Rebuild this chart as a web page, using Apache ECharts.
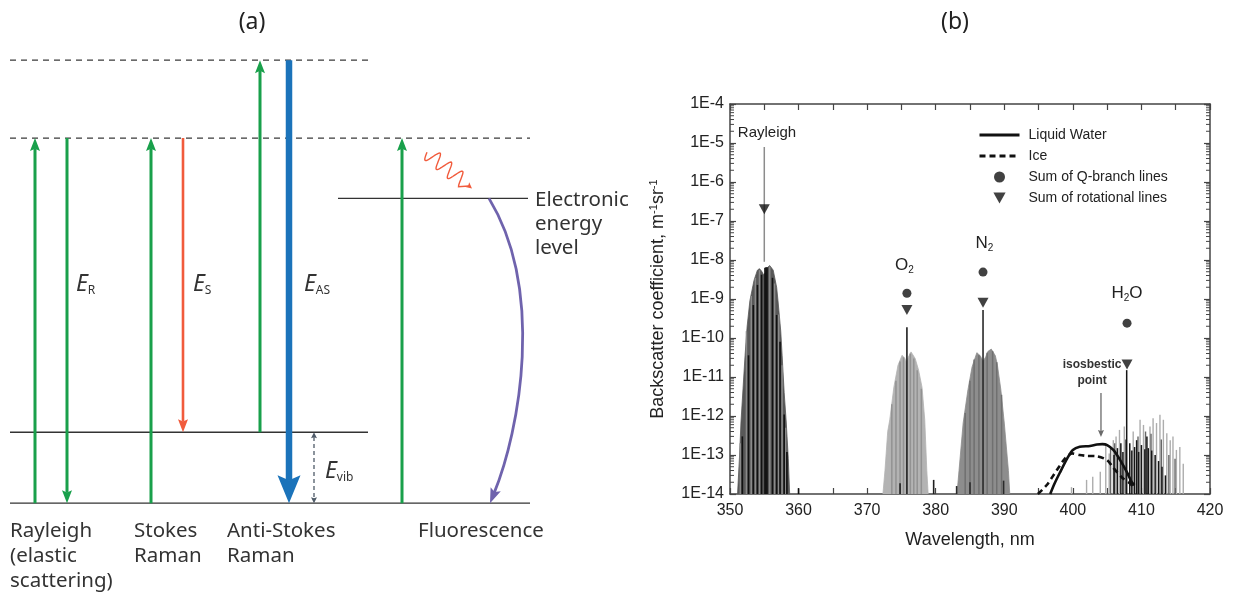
<!DOCTYPE html>
<html>
<head>
<meta charset="utf-8">
<script src="https://cdn.jsdelivr.net/npm/echarts@6.0.0/dist/echarts.min.js"></script>
<style>
html,body{margin:0;padding:0;background:#ffffff;}
#chart{width:1233px;height:594px;}
</style>
</head>
<body>
<div id="chart"></div>
<script>
/* ================= Panel (a): energy-level diagram ================= */
const levelNames  = ['ground', 'vibrational', 'electronic', 'virtual', 'virtualHigh'];
const levelEnergy = [0, 1, 4.3, 5.15, 6.25];
const processLabels = ['Rayleigh\n(elastic\nscattering)', 'Stokes\nRaman', 'Anti-Stokes\nRaman', 'Fluorescence'];
const transitionFrom = ['ground', 'virtual', 'ground', 'virtual', 'vibrational', 'virtualHigh', 'vibrational', 'ground'];
const transitionTo   = ['virtual', 'ground', 'virtual', 'vibrational', 'virtualHigh', 'ground', 'ground', 'virtual'];
const transitionKind = ['green', 'green', 'green', 'red', 'green', 'blue', 'vib', 'green'];
const energyLabelSub = ['R', 'S', 'AS', 'vib'];
const levelLabel = 'Electronic\nenergy\nlevel';

/* ================= Panel (b): backscatter spectrum ================= */
const xTickValues = [350, 360, 370, 380, 390, 400, 410, 420];
const yTickLabels = ['1E-14','1E-13','1E-12','1E-11','1E-10','1E-9','1E-8','1E-7','1E-6','1E-5','1E-4'];

const rayleighEnvelope = [[351.1,1e-14],[351.4,1e-13],[351.6,7e-13],[351.9,5e-12],[352.2,3.6e-11],[352.5,2e-10],[352.9,9e-10],[353.5,3e-9],[354.0,5.5e-9],[354.3,6e-9],[354.6,5.2e-9],[354.9,4.2e-9],[355.2,4.8e-9],[355.5,6.5e-9],[355.8,7.2e-9],[356.3,5.5e-9],[356.8,2e-9],[357.0,9e-10],[357.4,1.5e-10],[357.6,3.6e-11],[357.9,4e-12],[358.2,7e-13],[358.5,8e-14],[358.7,1e-14]];
const rayleighDark  = [[351.8,3e-13],[352.7,3.6e-11],[353.4,7e-10],[354.0,2.3e-9],[354.6,4.2e-9],[355.1,6.3e-9],[355.25,6.5e-9],[355.4,6.5e-9],[356.2,3.5e-9],[356.8,3.9e-10],[357.3,8e-11],[357.9,1.1e-12],[358.3,1.2e-13],[360.0,1.4e-14]];
const rayleighLight = [[351.5,2e-13],[352.4,1.5e-10],[353.1,1.2e-9],[353.7,3.5e-9],[354.3,5.5e-9],[355.8,6.8e-9],[356.5,2.5e-9],[357.1,4e-10],[357.6,2e-11],[358.1,5e-13]];

const o2Envelope = [[372.3,1e-14],[372.6,4e-14],[373.0,4e-13],[373.3,8e-13],[373.9,5.5e-12],[374.5,2e-11],[375.1,3.6e-11],[375.5,3e-11],[375.75,2.3e-11],[376.0,3.2e-11],[376.4,4.4e-11],[377.0,3e-11],[377.5,1.5e-11],[378.0,5.5e-12],[378.4,8e-13],[378.7,4e-14],[378.9,1e-14]];
const o2Mid  = [[373.6,2e-12],[374.2,8e-12],[374.8,2.5e-11],[375.3,3.2e-11],[376.3,4e-11],[376.8,3e-11],[377.3,1.5e-11],[377.9,5e-12]];
const o2Dark = [[375.8,1.9e-10],[374.8,1.9e-14],[379.7,2.3e-14]];

const n2Envelope = [[383.1,1e-14],[383.4,4e-14],[384.0,6.6e-13],[384.7,4.7e-12],[385.3,1.8e-11],[386.0,4.2e-11],[386.5,3.5e-11],[386.9,2.5e-11],[387.3,3.3e-11],[387.6,4.5e-11],[388.1,5.2e-11],[388.7,3.5e-11],[389.0,2e-11],[389.5,4.7e-12],[390.0,6.6e-13],[390.6,4e-14],[390.8,1e-14]];
const n2Mid  = [[384.3,1.2e-12],[385.0,8e-12],[385.6,2.8e-11],[386.3,3.6e-11],[387.5,4.2e-11],[388.3,4.6e-11],[388.9,2.4e-11],[389.6,3.5e-12]];
const n2Dark = [[386.9,5.2e-10],[383.05,1.6e-14],[385.0,2e-14],[389.9,2.2e-14]];

const h2oLight = [[399.8,1.5e-14],[402.0,2.3e-14],[402.9,2.75e-14],[404.0,3.7e-14],[404.8,2e-13],[405.3,1.1e-13],[405.9,2.4e-13],[406.3,3e-13],[406.8,4.4e-13],[407.5,5.4e-13],[408.8,4e-13],[409.8,8e-13],[410.3,5.9e-13],[411.25,5.4e-13],[411.7,8.7e-13],[412.2,6.6e-13],[412.7,1.07e-12],[413.2,8e-13],[413.7,3.6e-13],[414.2,2.4e-13],[414.6,3e-13],[415.1,1.35e-13],[415.6,1.6e-13],[416.1,6e-14]];
const h2oMid  = [[405.5,1.6e-13],[406.1,2e-13],[407.7,2.5e-13],[409.5,3e-13],[410.6,4e-13],[411.4,3.5e-13],[412.9,2.5e-13],[414.0,1e-13],[414.9,8e-14]];
const h2oDark = [[406.0,1e-13],[406.5,1.5e-13],[407.0,2e-13],[407.3,1.2e-13],[407.85,1.5e-11],[408.3,2e-13],[408.6,1.3e-13],[409.0,1.6e-13],[409.3,2.4e-13],[409.6,1.2e-13],[410.0,1.8e-13],[410.5,1.4e-13],[410.8,3e-13],[411.0,1.5e-13],[411.5,1.3e-13],[412.0,1e-13],[412.5,7e-14],[413.0,5e-14],[413.5,3e-14]];

const liquidWater = [[396.7,1e-14],[397.3,1.8e-14],[398.1,3.5e-14],[399.3,8.9e-14],[400.0,1.35e-13],[401.0,1.62e-13],[402.5,1.7e-13],[403.5,1.85e-13],[404.3,1.9e-13],[405.0,1.8e-13],[405.9,1.35e-13],[406.9,7.4e-14],[407.9,3.6e-14],[408.6,2e-14],[409.0,1.7e-14]];
const ice = [[394.9,1e-14],[396.2,1.7e-14],[397.7,4.2e-14],[398.9,8.3e-14],[399.9,1.1e-13],[401.0,1e-13],[402.0,9.5e-14],[403.5,9.3e-14],[405.0,7.4e-14],[405.9,4.7e-14],[407.2,2.6e-14],[408.3,1.9e-14],[408.7,1.6e-14]];
const qBranchSums = [[375.8,1.4e-9],[386.9,4.9e-9],[407.9,2.4e-10]];
const rotationalSums = [[355.0,2e-7],[375.8,5.2e-10],[386.9,8e-10],[407.9,2.1e-11]];

const speciesLabels = [{main:'O', sub:'2', tail:''},{main:'N', sub:'2', tail:''},{main:'H', sub:'2', tail:'O'}];
const speciesLabelAt = [[375.45,7.4e-9],[387.1,2.7e-8],[407.9,1.4e-9]];
const annotationText = ['Rayleigh','isosbestic','point'];
const annotationAt = [[355.4,1.8e-5],[402.8,2.1e-11],[402.8,7.9e-12]];
const pointerArrows = [[355.0,7.9e-6,9e-9],[404.1,3.9e-12,2.9e-13]];
const legendNames = ['Liquid Water','Ice','Sum of Q-branch lines','Sum of rotational lines'];

/* ================= layout & style (not data) ================= */
const Y_MIN = 1e-14, Y_MAX = 1e-4;
const FA = 'Noto Sans';
const FB = 'Liberation Sans';
const layoutA = {
  levelX: {ground:[10,530], vibrational:[10,368], electronic:[338,528], virtual:[10,530], virtualHigh:[10,370]},
  levelDashed: {virtual:true, virtualHigh:true},
  transitionX: [35,67,151,183,260,289,314,402],
  processX: [10,134,227,418],
  processTop: -0.225,
  energyLabelAt: [[76,3.08],[193,3.08],[304,3.08],[325,0.44]],
  levelLabelAt: [535,4.45],
  fluoCurve: {start:[489,4.3], c1:[545,3.0], c2:[520,1.03], end:[490,0]},
  wavy: {start:[427,4.95], end:[472,4.44]}
};
const arrowStyles = {
  green: {color:'#19a04b', width:3, headL:13, headW:10},
  red:   {color:'#f15b3c', width:2.6, headL:13, headW:10},
  blue:  {color:'#1b73ba', width:6.5, headL:28, headW:23},
  vib:   {color:'#4f5b68', width:1.3, headL:6, headW:6, dash:[4,3], both:true}
};
const E = name => levelEnergy[levelNames.indexOf(name)];

function arrowShapes(p0, p1, st, notch) {
  const dx = p1[0]-p0[0], dy = p1[1]-p0[1], L = Math.hypot(dx,dy);
  const ux = dx/L, uy = dy/L, nx = -uy, ny = ux;
  const nf = notch == null ? 0.82 : notch;
  const head = (tip, sx, sy) => {
    const bx = tip[0]-sx*st.headL, by = tip[1]-sy*st.headL;
    const mx = tip[0]-sx*st.headL*nf, my = tip[1]-sy*st.headL*nf;
    return {type:'polygon', shape:{points:[[tip[0],tip[1]],[bx+nx*st.headW/2,by+ny*st.headW/2],[mx,my],[bx-nx*st.headW/2,by-ny*st.headW/2]]}, style:{fill:st.color}};
  };
  const s = st.both ? [p0[0]+ux*st.headL*0.8, p0[1]+uy*st.headL*0.8] : p0;
  const e = [p1[0]-ux*st.headL*0.8, p1[1]-uy*st.headL*0.8];
  const ch = [{type:'line', shape:{x1:s[0],y1:s[1],x2:e[0],y2:e[1]}, style:{stroke:st.color, lineWidth:st.width, lineDash:st.dash||null}}];
  ch.push(head(p1, ux, uy));
  if (st.both) ch.push(head(p0, -ux, -uy));
  return ch;
}

const chart = echarts.init(document.getElementById('chart'), null, {renderer:'canvas', width:1233, height:594});

const axisColor = '#444';
const minorLogTicks = [];
for (let e = -14; e < -4; e++) for (let m = 2; m <= 9; m++) minorLogTicks.push(m*Math.pow(10,e));

function stickSeries(data, color, width, z) {
  return {
    type:'custom', xAxisIndex:1, yAxisIndex:1, z:z||3, silent:true, data:data,
    renderItem:(params, api) => {
      const x = api.value(0), v = api.value(1);
      const p0 = api.coord([x, Y_MIN]), p1 = api.coord([x, v]);
      return {type:'line', shape:{x1:p0[0],y1:p0[1],x2:p1[0],y2:p1[1]}, style:{stroke:color, lineWidth:width}};
    }
  };
}
function envelopeSeries(data, color) {
  return {
    type:'line', xAxisIndex:1, yAxisIndex:1, z:2, silent:true, data:data, symbol:'none',
    lineStyle:{width:0.8, color:color}, areaStyle:{color:color, opacity:1, origin:'start'}
  };
}
const logAxisCommon = {
  gridIndex:1, type:'log', logBase:10, min:Y_MIN, max:Y_MAX, interval:1, splitNumber:10,
  axisLine:{lineStyle:{color:axisColor, width:1.5}},
  axisTick:{inside:true, length:6, lineStyle:{color:axisColor, width:1.2}},
  splitLine:{show:false}
};

const option = {
  animation:false,
  backgroundColor:'#ffffff',
  graphic:[
    {type:'text', x:252, y:22, style:{text:'(a)', fontSize:23, fontFamily:FA, fill:'#222', align:'center', verticalAlign:'middle'}},
    {type:'text', x:955, y:22, style:{text:'(b)', fontSize:23, fontFamily:FA, fill:'#222', align:'center', verticalAlign:'middle'}}
  ],
  legend:{
    data:[
      {name:legendNames[0], itemStyle:{opacity:0}, lineStyle:{width:3}},
      {name:legendNames[1], itemStyle:{opacity:0}, lineStyle:{width:3}},
      {name:legendNames[2]},
      {name:legendNames[3]}
    ],
    orient:'vertical', left:978, top:127, padding:0, itemWidth:40, itemHeight:11, itemGap:5,
    selectedMode:false,
    textStyle:{fontSize:14, fontFamily:FB, color:'#222', lineHeight:16, padding:[0,0,0,4]}
  },
  grid:[
    {left:0, top:7, width:640, height:567},
    {left:730, top:104, width:480, height:390}
  ],
  xAxis:[
    {gridIndex:0, type:'value', min:0, max:640, show:false},
    {gridIndex:1, type:'value', min:350, max:420, interval:10, position:'bottom',
      axisLine:{lineStyle:{color:axisColor, width:1.5}},
      axisTick:{inside:true, length:6, lineStyle:{color:axisColor, width:1.2}},
      minorTick:{show:true, splitNumber:2, length:6, lineStyle:{color:axisColor, width:1.2}},
      splitLine:{show:false},
      axisLabel:{fontSize:16, fontFamily:FB, color:'#222', margin:9, formatter:v => xTickValues.indexOf(v) >= 0 ? String(v) : ''},
      name:'Wavelength, nm', nameLocation:'middle', nameGap:37,
      nameTextStyle:{fontSize:18, fontFamily:FB, color:'#222'}
    },
    {gridIndex:1, type:'value', min:350, max:420, interval:10, position:'top',
      axisLine:{lineStyle:{color:axisColor, width:1.5}},
      axisTick:{inside:true, length:6, lineStyle:{color:axisColor, width:1.2}},
      minorTick:{show:true, splitNumber:2, length:6, lineStyle:{color:axisColor, width:1.2}},
      splitLine:{show:false}, axisLabel:{show:false}
    }
  ],
  yAxis:[
    {gridIndex:0, type:'value', min:-1, max:7, show:false},
    Object.assign({}, logAxisCommon, {position:'left',
      axisLabel:{fontSize:16, fontFamily:FB, color:'#222', margin:6,
        formatter:v => yTickLabels[Math.round(Math.log10(v)) + 14]},
      name:'Backscatter coefficient, m{sup|-1}sr{sup|-1}', nameLocation:'middle', nameGap:62, nameRotate:90,
      nameTextStyle:{fontSize:18, fontFamily:FB, color:'#222', lineHeight:20,
        rich:{sup:{fontSize:11, fontFamily:FB, color:'#222', verticalAlign:'top', lineHeight:6}}}
    }),
    Object.assign({}, logAxisCommon, {position:'right', axisLabel:{show:false}})
  ],
  series:[
    /* ---------- panel (a) ---------- */
    {type:'custom', xAxisIndex:0, yAxisIndex:0, silent:true, z:2,
      data: levelNames.map((n,i) => [layoutA.levelX[n][0], levelEnergy[i], layoutA.levelX[n][1]]),
      renderItem:(params, api) => {
        const n = levelNames[params.dataIndex];
        const p0 = api.coord([api.value(0), api.value(1)]), p1 = api.coord([api.value(2), api.value(1)]);
        const dashed = !!layoutA.levelDashed[n];
        return {type:'line', shape:{x1:p0[0],y1:p0[1],x2:p1[0],y2:p1[1]},
          style:{stroke: dashed ? '#3a3a3a' : '#333', lineWidth:1.3, lineDash: dashed ? [6,5] : null}};
      }
    },
    {type:'custom', xAxisIndex:0, yAxisIndex:0, silent:true, z:3,
      data: transitionFrom.map((f,i) => [layoutA.transitionX[i], E(f), E(transitionTo[i])]),
      renderItem:(params, api) => {
        const i = params.dataIndex, x = api.value(0);
        const p0 = api.coord([x, api.value(1)]), p1 = api.coord([x, api.value(2)]);
        return {type:'group', children: arrowShapes(p0, p1, arrowStyles[transitionKind[i]])};
      }
    },
    {type:'custom', xAxisIndex:0, yAxisIndex:0, silent:true, z:3,
      data:[[layoutA.fluoCurve.start[0], layoutA.fluoCurve.start[1]]],
      renderItem:(params, api) => {
        const c = layoutA.fluoCurve;
        const s = api.coord(c.start), a = api.coord(c.c1), b = api.coord(c.c2), e = api.coord(c.end);
        const st = {color:'#6f63ad', width:2.8, headL:15, headW:11};
        const dx = e[0]-b[0], dy = e[1]-b[1], L = Math.hypot(dx,dy);
        const back = [e[0]-dx/L*12, e[1]-dy/L*12];
        const head = arrowShapes(back, e, st, 0.8)[1];
        return {type:'group', children:[
          {type:'bezierCurve', shape:{x1:s[0],y1:s[1],cpx1:a[0],cpy1:a[1],cpx2:b[0],cpy2:b[1],x2:back[0]+dx/L*2,y2:back[1]+dy/L*2},
            style:{stroke:st.color, lineWidth:st.width, fill:null}},
          head]};
      }
    },
    {type:'custom', xAxisIndex:0, yAxisIndex:0, silent:true, z:3,
      data:[[layoutA.wavy.start[0], layoutA.wavy.start[1]]],
      renderItem:(params, api) => {
        const s = api.coord(layoutA.wavy.start), e = api.coord(layoutA.wavy.end);
        const dx = e[0]-s[0], dy = e[1]-s[1], L = Math.hypot(dx,dy), ux = dx/L, uy = dy/L, nx = -uy, ny = ux;
        const pts = [];
        const waveLen = 0.8, N = 80, amp = 7.5, periods = 3.2;
        for (let k = 0; k <= N; k++) {
          const t = k/N*waveLen;
          const off = amp*Math.sin(2*Math.PI*periods*(t/waveLen));
          pts.push([s[0]+dx*t+nx*off, s[1]+dy*t+ny*off]);
        }
        pts.push([e[0]-ux*4, e[1]-uy*4]);
        const head = arrowShapes([e[0]-ux*10, e[1]-uy*10], e, {color:'#f15b3c', width:1.4, headL:6, headW:6}, 0.8)[1];
        return {type:'group', children:[
          {type:'polyline', shape:{points:pts}, style:{stroke:'#f15b3c', lineWidth:1.4, fill:null}}, head]};
      }
    },
    {type:'custom', xAxisIndex:0, yAxisIndex:0, silent:true, z:4,
      data: layoutA.energyLabelAt,
      renderItem:(params, api) => {
        const p = api.coord([api.value(0), api.value(1)]);
        return {type:'text', x:p[0], y:p[1], style:{
          text:'{e|E}{s|' + energyLabelSub[params.dataIndex] + '}', align:'left', verticalAlign:'middle',
          rich:{e:{fontSize:23, fontFamily:FA, fontStyle:'italic', fill:'#333', lineHeight:24},
                s:{fontSize:12, fontFamily:FA, fill:'#333', lineHeight:2, verticalAlign:'bottom'}}}};
      }
    },
    {type:'custom', xAxisIndex:0, yAxisIndex:0, silent:true, z:4,
      data: layoutA.processX.map(x => [x, layoutA.processTop]).concat([layoutA.levelLabelAt]),
      renderItem:(params, api) => {
        const p = api.coord([api.value(0), api.value(1)]);
        const i = params.dataIndex;
        const txt = i < processLabels.length ? processLabels[i] : levelLabel;
        return {type:'text', x:p[0], y:p[1], style:{text:txt, fontSize:20.5, fontFamily:FA, fill:'#333',
          lineHeight: i < processLabels.length ? 25 : 24, align:'left', verticalAlign:'top'}};
      }
    },

    /* ---------- panel (b) ---------- */
    envelopeSeries(rayleighEnvelope, '#585858'),
    envelopeSeries(o2Envelope, '#b3b3b3'),
    envelopeSeries(n2Envelope, '#8d8d8d'),
    stickSeries(rayleighLight, '#8a8a8a', 1.5),
    stickSeries(rayleighDark, '#111', 1.6),
    stickSeries(o2Mid, '#929292', 1.5),
    stickSeries(o2Dark, '#1e1e1e', 1.6),
    stickSeries(n2Mid, '#707070', 1.5),
    stickSeries(n2Dark, '#2a2a2a', 1.6),
    stickSeries(h2oLight, '#adadad', 1.4),
    stickSeries(h2oMid, '#666', 1.4),
    stickSeries(h2oDark, '#161616', 1.5),
    {name:'Liquid Water', type:'line', xAxisIndex:1, yAxisIndex:1, z:5, data:liquidWater, symbol:'none', smooth:0.25,
      lineStyle:{color:'#111', width:2.6}, itemStyle:{color:'#111'}},
    {name:'Ice', type:'line', xAxisIndex:1, yAxisIndex:1, z:5, data:ice, symbol:'none', smooth:0.25,
      lineStyle:{color:'#111', width:2.6, type:[6,4]}, itemStyle:{color:'#111'}},
    {name:'Sum of Q-branch lines', type:'scatter', xAxisIndex:1, yAxisIndex:1, z:6, data:qBranchSums,
      symbol:'circle', symbolSize:9, itemStyle:{color:'#111'}},
    {name:'Sum of rotational lines', type:'scatter', xAxisIndex:1, yAxisIndex:1, z:6, data:rotationalSums,
      symbol:'path://M0,0L10,0L5,9Z', symbolSize:[11,10], itemStyle:{color:'#111'}},
    {type:'custom', xAxisIndex:1, yAxisIndex:1, silent:true, z:4, data:pointerArrows,
      renderItem:(params, api) => {
        const x = api.value(0);
        const p0 = api.coord([x, api.value(1)]), p1 = api.coord([x, api.value(2)]);
        if (params.dataIndex === 0) {
          return {type:'line', shape:{x1:p0[0],y1:p0[1],x2:p1[0],y2:p1[1]}, style:{stroke:'#8c8c8c', lineWidth:1.5}};
        }
        return {type:'group', children: arrowShapes(p0, p1, {color:'#6a6a6a', width:1.3, headL:7, headW:6}, 0.85)};
      }
    },
    {type:'custom', xAxisIndex:1, yAxisIndex:1, silent:true, z:7, data:annotationAt,
      renderItem:(params, api) => {
        const p = api.coord([api.value(0), api.value(1)]);
        const i = params.dataIndex;
        return {type:'text', x:p[0], y:p[1], style:{text:annotationText[i], align:'center', verticalAlign:'middle',
          fontSize: i === 0 ? 15 : 12, fontWeight: i === 0 ? 'normal' : 'bold', fontFamily:FB, fill: i === 0 ? '#222' : '#333'}};
      }
    },
    {type:'custom', xAxisIndex:1, yAxisIndex:1, silent:true, z:7, data:speciesLabelAt,
      renderItem:(params, api) => {
        const p = api.coord([api.value(0), api.value(1)]);
        const l = speciesLabels[params.dataIndex];
        return {type:'text', x:p[0], y:p[1], style:{
          text:'{m|' + l.main + '}{s|' + l.sub + '}' + (l.tail ? '{m|' + l.tail + '}' : ''), align:'center', verticalAlign:'middle',
          rich:{m:{fontSize:17, fontFamily:FB, fill:'#222', lineHeight:20},
                s:{fontSize:10, fontFamily:FB, fill:'#222', lineHeight:6, verticalAlign:'bottom'}}}};
      }
    },
    {type:'custom', xAxisIndex:1, yAxisIndex:1, silent:true, z:8, data:minorLogTicks.map(v => [350, v]),
      renderItem:(params, api) => {
        const v = api.value(1);
        const l = api.coord([350, v]), r = api.coord([420, v]);
        const st = {stroke:axisColor, lineWidth:1};
        return {type:'group', children:[
          {type:'line', shape:{x1:l[0],y1:l[1],x2:l[0]+4,y2:l[1]}, style:st},
          {type:'line', shape:{x1:r[0],y1:r[1],x2:r[0]-4,y2:r[1]}, style:st}]};
      }
    }
  ]
};
chart.setOption(option);
</script>
</body>
</html>
